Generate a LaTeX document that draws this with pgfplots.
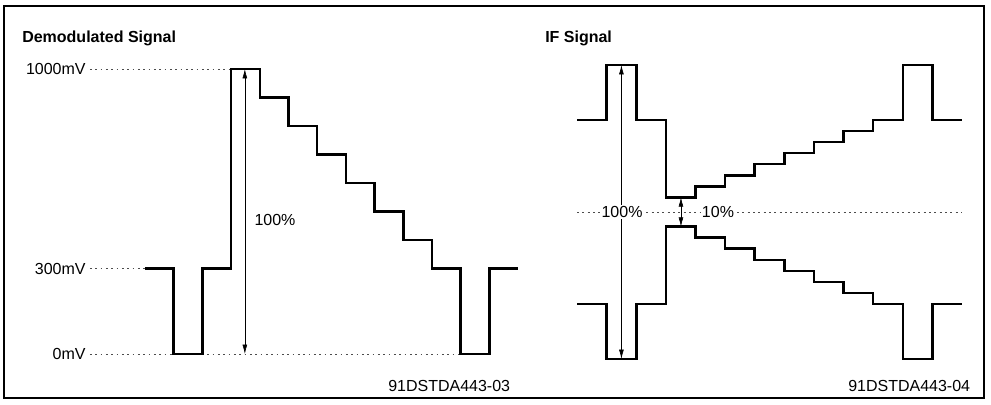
\documentclass[border=0pt]{standalone}
\usepackage{pgfplots}
\pgfplotsset{compat=1.18}
\usepackage{fontspec}
\setmainfont{Liberation Sans}
\usetikzlibrary{arrows.meta}
\tikzset{
  guide/.style={line width=0.5pt, dash pattern=on 1.4pt off 2.6pt, black!70},
  dim/.style={line width=0.45pt, {Latex[length=7pt,width=3.6pt]}-{Latex[length=7pt,width=3.6pt]}},
  sig/.style={black, line width=1.9pt, miter limit=10}
}
\begin{document}
\begin{tikzpicture}[font=\fontsize{12}{14}\selectfont]
% 1 px of the reference = 0.75pt
\path (0pt,0pt) rectangle (743.25pt,303pt);
\draw[line width=1.1pt] (3pt,4.5pt) rectangle (738pt,298.5pt);
\node[anchor=base west,inner sep=0,font=\bfseries\fontsize{12}{14}\selectfont] at (16.5pt,270.75pt) {Demodulated Signal};
\node[anchor=base west,inner sep=0,font=\bfseries\fontsize{12}{14}\selectfont] at (408.75pt,270.75pt) {IF Signal};
\node[anchor=base west,inner sep=0] at (291pt,9.75pt) {91DSTDA443-03};
\node[anchor=base west,inner sep=0] at (636pt,9.75pt) {91DSTDA443-04};

% demodulated signal, mV
\begin{axis}[at={(108.75pt,37.5pt)}, anchor=south west, scale only axis,
  width=279.75pt, height=213.75pt,
  xmin=0, xmax=13, ymin=0, ymax=1000,
  hide axis, clip=false]
\draw[guide] (-1.92,1000) -- (3,1000);
\draw[guide] (-1.92,300) -- (0,300);
\draw[guide] (-1.92,0) -- (11,0);
\node[anchor=east,inner sep=0] at (-2.06,1000) {1000mV};
\node[anchor=east,inner sep=0] at (-2.06,300) {300mV};
\node[anchor=east,inner sep=0] at (-2.06,0) {0mV};
\addplot[sig, const plot] coordinates {
  (0,300) (1,0) (2,300) (3,1000) (4,900) (5,800) (6,700) (7,600)
  (8,500) (9,400) (10,300) (11,0) (12,300) (13,300)
};
\draw[dim] (3.48,1000) -- (3.48,0);
\node at (4.53,470) {100\%};
\end{axis}

% IF signal envelope, % of peak
\begin{axis}[at={(432.75pt,33.75pt)}, anchor=south west, scale only axis,
  width=288.75pt, height=220.5pt,
  xmin=0, xmax=13, ymin=-100, ymax=100,
  hide axis, clip=false]
\draw[guide] (0,0) -- (13,0);
\addplot[sig, const plot] coordinates {
  (0,62.5) (1,100) (2,62.5) (3,10) (4,17.5) (5,25) (6,32.5) (7,40)
  (8,47.5) (9,55) (10,62.5) (11,100) (12,62.5) (13,62.5)
};
\addplot[sig, const plot] coordinates {
  (0,-62.5) (1,-100) (2,-62.5) (3,-10) (4,-17.5) (5,-25) (6,-32.5) (7,-40)
  (8,-47.5) (9,-55) (10,-62.5) (11,-100) (12,-62.5) (13,-62.5)
};
\draw[dim] (1.5,100) -- (1.5,-100);
\draw[dim] (3.51,10) -- (3.51,-10);
\node[fill=white,inner sep=1pt] at (1.52,0) {100\%};
\node[fill=white,inner sep=1pt] at (4.76,0) {10\%};
\end{axis}
\end{tikzpicture}
\end{document}
